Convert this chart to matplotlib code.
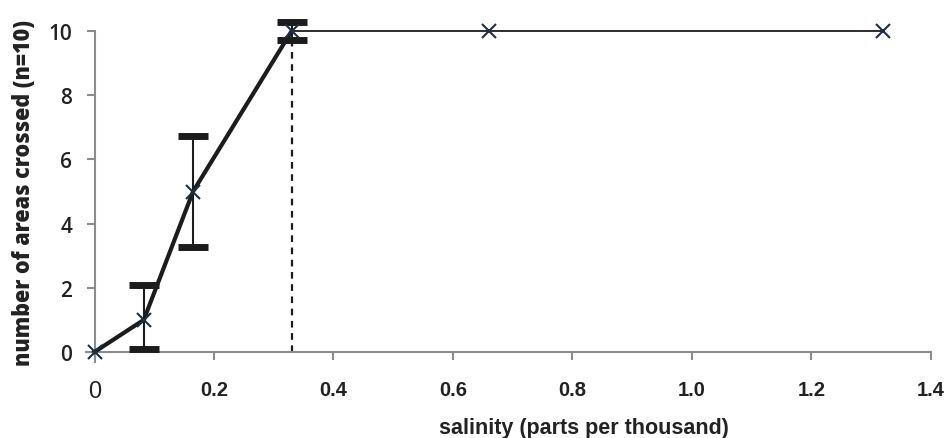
import matplotlib
matplotlib.use("Agg")
import matplotlib.pyplot as plt

# salinity (ppt) and mean areas crossed
salinity = [0, 0.0825, 0.165, 0.33, 0.66, 1.32]
areas = [0, 1, 5, 10, 10, 10]

# error bars (only first four points)
err_x = [0.0825, 0.165, 0.33]
err_y = [1, 5, 10]
err_low = [0.9, 1.72, 0.27]
err_high = [1.1, 1.72, 0.27]

xticks = [0, 0.2, 0.4, 0.6, 0.8, 1.0, 1.2, 1.4]
xticklabels = ["0", "0.2", "0.4", "0.6", "0.8", "1.0", "1.2", "1.4"]
yticks = [0, 2, 4, 6, 8, 10]

fig = plt.figure(figsize=(9.45, 4.39), dpi=100, facecolor="white")
ax = fig.add_axes([0.1, 0.196, 0.885, 0.731])

line_col = "#1c1c1c"
axis_col = "#8c8c8c"

# dashed drop line at threshold
ax.plot([salinity[3], salinity[3]], [0, areas[3]], color=line_col, lw=1.6,
        ls=(0, (3, 2.5)), zorder=2)

# thick part up to 0.33, thin afterwards
ax.plot(salinity[:4], areas[:4], color=line_col, lw=3, zorder=3, clip_on=False)
ax.plot(salinity[3:], areas[3:], color=line_col, lw=1.3, zorder=3, clip_on=False)

eb = ax.errorbar(err_x, err_y, yerr=[err_low, err_high], fmt="none", ecolor=line_col,
                 elinewidth=1.5, capsize=11, capthick=5, zorder=4)
for art in eb.lines[1]:
    art.set_clip_on(False)
for art in eb.lines[2]:
    art.set_clip_on(False)

ax.plot(salinity, areas, ls="none", marker="x", ms=10, mew=1.5,
        color="#1f2d45", zorder=5, clip_on=False)

ax.set_xlim(0, 1.4)
ax.set_ylim(0, 10)
ax.set_xticks(xticks)
ax.set_xticklabels(xticklabels)
ax.set_yticks(yticks)

for s in ["top", "right"]:
    ax.spines[s].set_visible(False)
ax.spines["left"].set_color(axis_col)
ax.spines["bottom"].set_color(axis_col)
ax.spines["left"].set_linewidth(1.5)
ax.spines["bottom"].set_linewidth(1.5)
ax.spines["left"].set_bounds(-0.3, 10)
ax.spines["bottom"].set_bounds(-0.015, 1.4)

ax.tick_params(axis="both", direction="out", length=6, width=1.5, color=axis_col)
ax.tick_params(axis="y", pad=10, labelsize=15, labelcolor="#222222")
ax.tick_params(axis="x", pad=14, labelsize=14.5, labelcolor="#222222")
for lab in ax.get_xticklabels():
    lab.set_fontfamily("Liberation Sans")
    lab.set_fontweight("bold")
ax.get_xticklabels()[0].set_fontsize(17)
ax.get_xticklabels()[0].set_fontweight("normal")
for lab in ax.get_yticklabels():
    lab.set_fontfamily("Open Sans")
    lab.set_fontweight("semibold")

ax.set_xlabel("salinity (parts per thousand)", fontsize=15.5, fontweight="bold",
              family="Liberation Sans", color="#222222", labelpad=11, x=0.585)
ax.set_ylabel("number of areas crossed (n=10)", fontsize=15.5, fontweight="heavy",
              family="Open Sans", color="#222222", labelpad=9)

fig.savefig("out.png", dpi=100, facecolor="white")
